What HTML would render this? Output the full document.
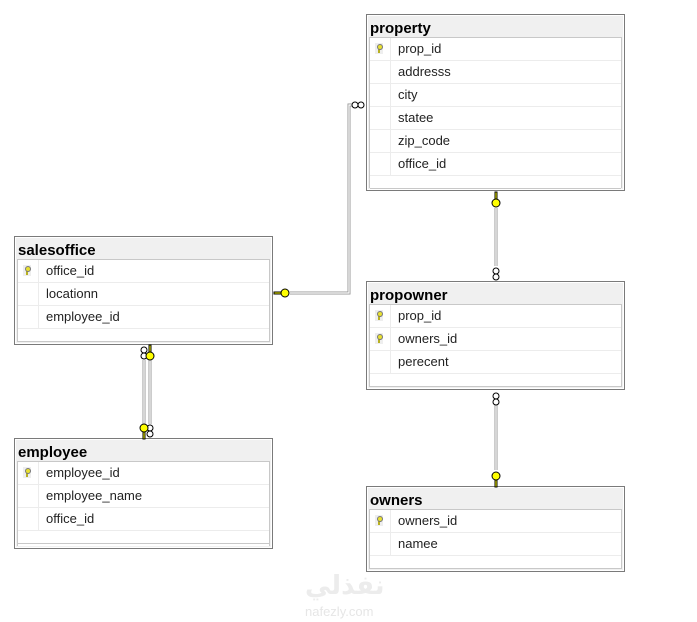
<!DOCTYPE html>
<html><head><meta charset="utf-8"><style>
body{margin:0;width:697px;height:622px;background:#fff;position:relative;overflow:hidden;font-family:"Liberation Sans",sans-serif}
.t{position:absolute;border:1px solid #7a7a7a;background:#f0f0f0;box-shadow:inset 0 0 0 1px #fff}
.t h{position:absolute;left:3px;top:5px;font-weight:bold;font-size:15px;color:#000;line-height:18px}
.in{position:absolute;left:2px;right:2px;top:22px;bottom:2px;background:#fff;border:1px solid #c8c8c8;border-bottom:none}
.r{height:22px;border-bottom:1px solid #ececec;position:relative;font-size:13px;line-height:22px;color:#222}
.r span{position:absolute;left:28px}
.r:before{content:"";position:absolute;left:20px;top:0;bottom:-1px;border-left:1px solid #ececec}
.k{position:absolute;left:5px;top:5px;width:8px;height:11px;background:#eee}
.k:after{content:"";position:absolute;left:2px;top:1px;width:4px;height:4px;border-radius:50%;background:#e8e030;border:1px solid #777}
.k:before{content:"";position:absolute;left:3px;top:6px;width:2px;height:4px;background:#b8b020}
.emp{height:12px;border-bottom:1px solid #c8c8c8}
</style></head><body>

<div class="t" style="left:366px;top:14px;width:257px;height:175px"><h>property</h><div class="in">
<div class="r"><i class="k"></i><span>prop_id</span></div>
<div class="r"><span>addresss</span></div>
<div class="r"><span>city</span></div>
<div class="r"><span>statee</span></div>
<div class="r"><span>zip_code</span></div>
<div class="r"><span>office_id</span></div>
<div class="emp"></div></div></div>

<div class="t" style="left:14px;top:236px;width:257px;height:107px"><h>salesoffice</h><div class="in">
<div class="r"><i class="k"></i><span>office_id</span></div>
<div class="r"><span>locationn</span></div>
<div class="r"><span>employee_id</span></div>
<div class="emp"></div></div></div>

<div class="t" style="left:366px;top:281px;width:257px;height:107px"><h>propowner</h><div class="in">
<div class="r"><i class="k"></i><span>prop_id</span></div>
<div class="r"><i class="k"></i><span>owners_id</span></div>
<div class="r"><span>perecent</span></div>
<div class="emp"></div></div></div>

<div class="t" style="left:14px;top:438px;width:257px;height:109px"><h>employee</h><div class="in">
<div class="r"><i class="k"></i><span>employee_id</span></div>
<div class="r"><span>employee_name</span></div>
<div class="r"><span>office_id</span></div>
<div class="emp"></div></div></div>

<div class="t" style="left:366px;top:486px;width:257px;height:84px"><h>owners</h><div class="in">
<div class="r"><i class="k"></i><span>owners_id</span></div>
<div class="r"><span>namee</span></div>
<div class="emp"></div></div></div>

<svg width="697" height="622" style="position:absolute;left:0;top:0" fill="none">
<g stroke="#999" stroke-width="3">
<polyline points="352,105 349,105 349,293 290,293"/>
<line x1="496" y1="208" x2="496" y2="266"/>
<line x1="496" y1="405" x2="496" y2="470"/>
<line x1="144" y1="360" x2="144" y2="424"/>
<line x1="150" y1="360" x2="150" y2="424"/>
</g>
<g stroke="#fff" stroke-width="1.2">
<polyline points="352,105 349,105 349,293 290,293"/>
<line x1="496" y1="208" x2="496" y2="266"/>
<line x1="496" y1="405" x2="496" y2="470"/>
<line x1="144" y1="360" x2="144" y2="424"/>
<line x1="150" y1="360" x2="150" y2="424"/>
</g>
<g stroke="#000" stroke-width="1" fill="#fff">
<circle cx="355" cy="105" r="3"/><circle cx="361" cy="105" r="3"/>
<circle cx="496" cy="271" r="3"/><circle cx="496" cy="277" r="3"/>
<circle cx="496" cy="396" r="3"/><circle cx="496" cy="402" r="3"/>
<circle cx="144" cy="350" r="3"/><circle cx="144" cy="356" r="3"/>
<circle cx="150" cy="428" r="3"/><circle cx="150" cy="434" r="3"/>
</g>
<g stroke="#000" stroke-width="1" fill="#ff0">
<circle cx="285" cy="293" r="4"/><rect x="274" y="292" width="7" height="2"/>
<circle cx="496" cy="203" r="4"/><rect x="495" y="192" width="2" height="7"/>
<circle cx="496" cy="476" r="4"/><rect x="495" y="480" width="2" height="7"/>
<circle cx="150" cy="356" r="4"/><rect x="149" y="345" width="2" height="7"/>
<circle cx="144" cy="428" r="4"/><rect x="143" y="432" width="2" height="7"/>
</g>
</svg>
<div style="position:absolute;left:305px;top:570px;font-size:26px;color:#ececec;font-weight:bold;font-family:'Liberation Sans','DejaVu Sans',sans-serif">نفذلي</div>
<div style="position:absolute;left:305px;top:604px;font-size:13px;color:#e6e6e6">nafezly.com</div>
</body></html>
